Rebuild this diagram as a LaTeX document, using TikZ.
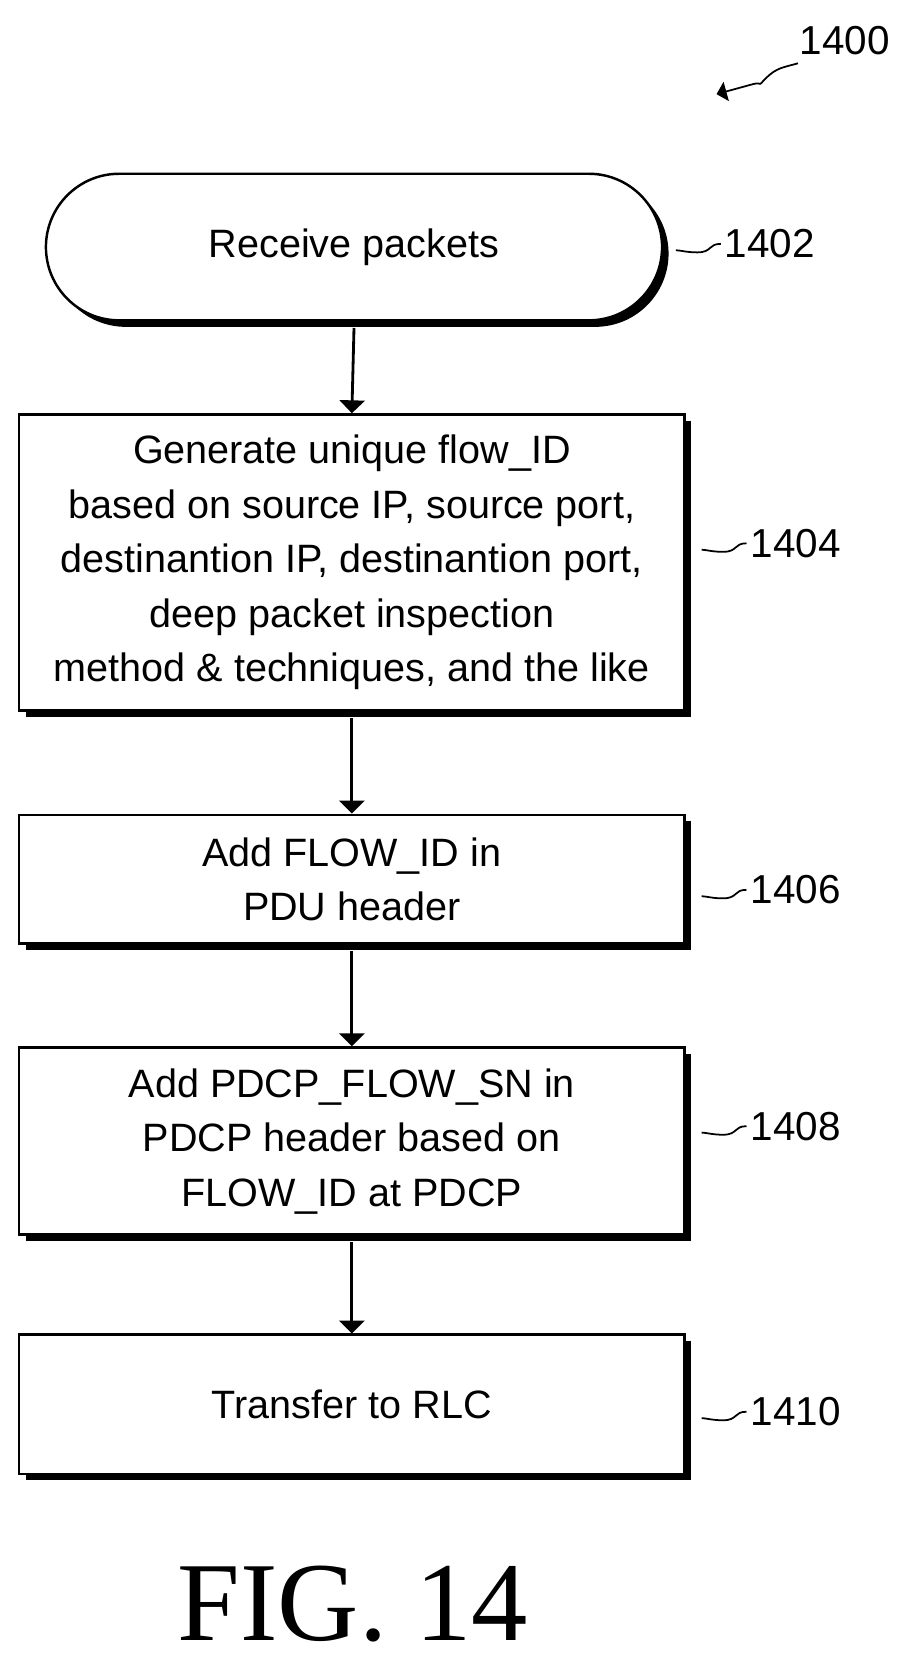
\documentclass[tikz,border=0pt]{standalone}
\usepackage{fontspec}
\setmainfont{Liberation Serif}
\setsansfont{Liberation Sans}
\usetikzlibrary{arrows,shapes.misc,shadows}
\tikzset{
  box/.style={draw, line width=1.4pt, fill=white, minimum width=13.3cm, align=center,
    font=\sffamily\fontsize{22.5}{31}\selectfont,
    drop shadow={fill=black, opacity=1, shadow xshift=0.13cm, shadow yshift=-0.13cm}},
  term/.style={box, rounded rectangle, minimum width=12.55cm, minimum height=2.93cm},
  ref/.style={font=\sffamily\fontsize{23}{27}\selectfont, anchor=west},
  squig/.style={line width=1pt},
  flow/.style={->, line width=1.6pt}
}
\begin{document}
\begin{tikzpicture}[x=0.021385cm, y=-0.021385cm, >=triangle 90]
\useasboundingbox (0,0) rectangle (852,1569);

  \node [term] (recv) at (331,231) {Receive packets};
  \node [box, minimum height=5.92cm] (gen) at (329,526)
    {Generate unique flow\_ID\\ based on source IP, source port,\\ destinantion IP, destinantion port,\\ deep packet inspection\\ method \& techniques, and the like};
  \node [box, minimum height=2.57cm] (addflow) at (329,822) {Add FLOW\_ID in\\ PDU header};
  \node [box, minimum height=3.74cm] (addsn) at (329,1067)
    {Add PDCP\_FLOW\_SN in\\ PDCP header based on\\ FLOW\_ID at PDCP};
  \node [box, minimum height=2.78cm] (rlc) at (329,1313) {Transfer to RLC};

  \draw [flow] (recv.south) ++(0,6) -- (gen.north);
  \draw [flow] (gen.south) ++(0,6) -- (addflow.north);
  \draw [flow] (addflow.south) ++(0,6) -- (addsn.north);
  \draw [flow] (addsn.south) ++(0,6) -- (rlc.north);

  % reference numerals
  \node [ref] (n1402) at (672,228) {1402};
  \node [ref] (n1404) at (696,508) {1404};
  \node [ref] (n1406) at (696,832) {1406};
  \node [ref] (n1408) at (696,1053) {1408};
  \node [ref] (n1410) at (696,1320) {1410};

  \foreach \n in {1402,1404,1406,1408,1410}
    \draw [squig] (n\n.west) ++(2,0) .. controls +(-12,0) and +(14,0) .. ++(-22,8)
      .. controls +(-10,0) and +(4,0) .. ++(-20,-2);

  \node [font=\sffamily\fontsize{23}{27}\selectfont] (n1400) at (790,38) {1400};
  \coordinate (tip) at (670,88);
  \draw [->, squig] (n1400.south west) ++(4,2) .. controls +(-14,4) and +(10,-10) .. ++(-30,14)
    .. controls +(-10,10) and +(14,-4) .. ++(-14,6) -- (tip);

  \node [font=\rmfamily\fontsize{64}{72}\selectfont] (fig) at (330,1500) {FIG. 14};
\end{tikzpicture}
\end{document}
